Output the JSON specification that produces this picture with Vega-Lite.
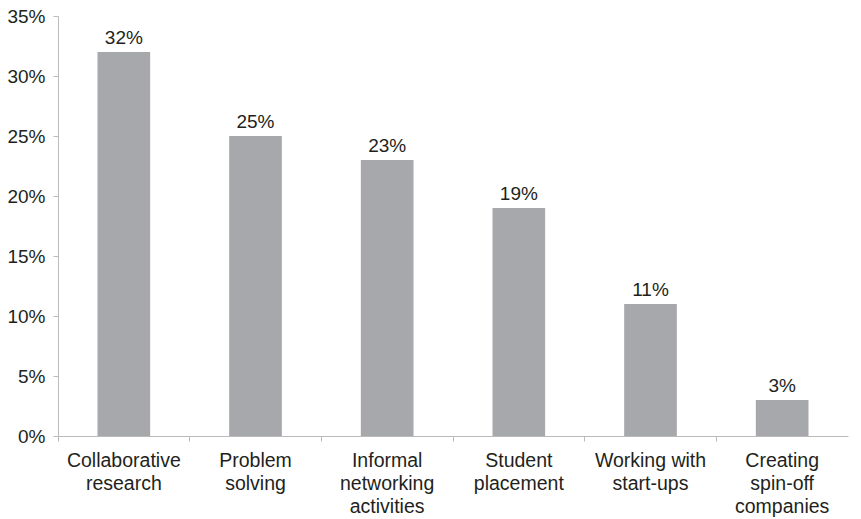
{
  "$schema": "https://vega.github.io/schema/vega-lite/v6.json",
  "width": 790,
  "height": 420,
  "autosize": {"type": "none"},
  "padding": {"left": 58, "top": 16, "right": 13, "bottom": 83},
  "background": "white",
  "config": {"view": {"stroke": null}, "font": "Liberation Sans"},
  "data": {"values": [
    {"activity": "Collaborative research", "share": 0.32},
    {"activity": "Problem solving", "share": 0.25},
    {"activity": "Informal networking activities", "share": 0.23},
    {"activity": "Student placement", "share": 0.19},
    {"activity": "Working with start-ups", "share": 0.11},
    {"activity": "Creating spin-off companies", "share": 0.03}
  ]},
  "encoding": {
    "x": {"field": "activity", "type": "nominal", "sort": null,
      "scale": {"paddingInner": 0.6, "paddingOuter": 0.3},
      "axis": {"title": null, "labelAngle": 0, "labelFontSize": 19.5, "labelColor": "#231f20", "labelLineHeight": 23,
        "labelPadding": 10, "domainColor": "#bbb", "tickColor": "#bbb", "tickSize": 5, "bandPosition": -0.75,
        "labelBaseline": "top",
        "labelExpr": "datum.value == 'Working with start-ups' ? ['Working with', 'start-ups'] : split(datum.value, ' ')"}},
    "y": {"field": "share", "type": "quantitative",
      "scale": {"domain": [0, 0.35], "nice": false},
      "axis": {"title": null, "format": ".0%", "values": [0, 0.05, 0.1, 0.15, 0.2, 0.25, 0.3, 0.35],
        "grid": false, "labelFontSize": 19, "labelColor": "#231f20", "labelPadding": 8,
        "domainColor": "#bbb", "tickColor": "#bbb", "tickSize": 5}}
  },
  "layer": [
    {"mark": {"type": "bar", "color": "#a7a8ab"}},
    {"mark": {"type": "text", "dy": -4, "baseline": "bottom", "fontSize": 19, "color": "#231f20"},
     "encoding": {"text": {"field": "share", "type": "quantitative", "format": ".0%"}}}
  ]
}
